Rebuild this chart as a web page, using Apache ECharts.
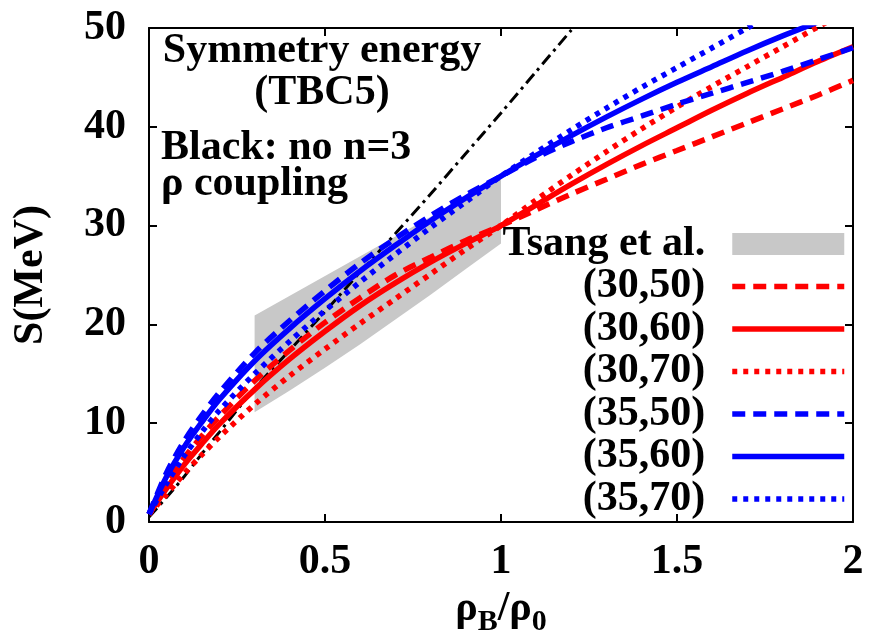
<!DOCTYPE html>
<html>
<head>
<meta charset="utf-8">
<script src="https://cdn.jsdelivr.net/npm/echarts@6/dist/echarts.min.js"></script>
<style>
  html, body { margin: 0; padding: 0; background: #fff; }
  #chart { width: 870px; height: 637px; }
</style>
</head>
<body>
<div id="chart"></div>
<script>
// Density grid (rho_B / rho_0) shared by the model curves
const rho = [0, 0.05, 0.1, 0.15, 0.2, 0.3, 0.4, 0.5, 0.6, 0.7, 0.8, 0.9, 1.0,
             1.1, 1.2, 1.3, 1.4, 1.5, 1.6, 1.7, 1.8, 1.9, 2.0];

// Symmetry energy S (MeV) for each (J, L) parameter set
const s30_50 = [0.8, 3.9, 6.5, 8.7, 10.7, 14.3, 17.4, 20.2, 22.7, 25.0, 26.8, 28.5, 30.0,
                31.6, 33.2, 34.7, 36.2, 37.6, 39.0, 40.4, 41.8, 43.2, 44.7];
const s30_60 = [0.8, 3.4, 5.8, 7.9, 9.9, 13.4, 16.5, 19.3, 21.9, 24.2, 26.3, 28.2, 30.0,
                32.1, 34.2, 36.2, 38.1, 39.9, 41.7, 43.4, 45.0, 46.6, 48.1];
const s30_70 = [0.8, 2.8, 4.9, 6.8, 8.6, 11.9, 14.8, 17.5, 20.1, 22.6, 25.1, 27.6, 30.0,
                32.6, 35.1, 37.5, 39.8, 42.0, 44.1, 46.1, 48.1, 50.1, 52.0];
const s35_50 = [0.8, 5.0, 8.2, 10.8, 13.1, 17.1, 20.4, 23.4, 26.2, 28.7, 31.0, 33.1, 35.0,
                36.9, 38.5, 39.9, 41.1, 42.3, 43.4, 44.5, 45.6, 46.8, 48.0];
const s35_60 = [0.8, 4.6, 7.6, 10.1, 12.4, 16.3, 19.6, 22.6, 25.4, 28.0, 30.5, 32.8, 35.0,
                37.1, 39.1, 41.0, 42.8, 44.5, 46.1, 47.7, 49.2, 50.6, 52.0];
const s35_70 = [0.8, 3.9, 6.7, 9.1, 11.3, 15.0, 18.3, 21.4, 24.3, 27.1, 29.8, 32.4, 35.0,
                37.4, 39.7, 41.9, 44.0, 46.0, 48.0, 50.0, 52.0, 53.9, 55.8];

// Reference model without the n=3 rho coupling (black dash-dot)
const rhoBlack = [0, 0.05, 0.1, 0.15, 0.2, 0.3, 0.4, 0.5, 0.6, 0.7, 0.8, 0.9, 1.0, 1.1, 1.2];
const sBlack   = [0.5, 2.5, 4.6, 6.9, 9.1, 13.5, 17.4, 21.3, 25.3, 29.2, 33.2, 37.3, 41.4, 45.6, 49.8];

// Tsang et al. constraint band
const bandRho  = [0.3, 0.4, 0.5, 0.6, 0.7, 0.8, 0.9, 1.0];
const bandLow  = [11.1, 13.3, 15.6, 18.0, 20.5, 23.0, 25.6, 28.2];
const bandHigh = [20.9, 22.9, 24.9, 26.9, 28.9, 30.9, 32.9, 34.9];

// Axis tick labels
const xTickLabels = ['0', '0.5', '1', '1.5', '2'];
const yTickLabels = ['0', '10', '20', '30', '40', '50'];

const RED = '#ff0000';
const BLUE = '#0000ff';
const GRAY = '#c8c8c8';
const FONT = 'Liberation Serif';

const pairs = (xs, ys) => ys.map((y, i) => [xs[i], y]);

function curve(name, ys, color, dash) {
  return {
    type: 'line', name: name, data: pairs(rho, ys),
    symbol: 'none', smooth: 0.3, z: 3,
    lineStyle: { color: color, width: 5.5, type: dash },
    itemStyle: { color: color }
  };
}

const chart = echarts.init(document.getElementById('chart'));

const axisCommon = {
  type: 'value',
  axisLine: { show: true, onZero: false, lineStyle: { color: '#000', width: 2 } },
  axisTick: { show: true, inside: true, length: 8, lineStyle: { color: '#000', width: 2 } },
  splitLine: { show: false }
};
const labelFont = { fontFamily: FONT, fontWeight: 'bold', fontSize: 42, color: '#000' };
const textFont = 'bold 42px "Liberation Serif"';

chart.setOption({
  animation: false,
  backgroundColor: '#fff',
  grid: { left: 149, right: 17, top: 28, bottom: 115, containLabel: false, outerBoundsMode: 'none' },
  xAxis: [
    Object.assign({}, axisCommon, {
      min: 0, max: 2, interval: 0.5,
      name: '{r|ρ}{s|B}{r|/ρ}{s|0}', nameLocation: 'middle', nameGap: 44,
      nameTextStyle: {
        rich: {
          r: { fontFamily: FONT, fontWeight: 'bold', fontSize: 42, color: '#000' },
          s: { fontFamily: FONT, fontWeight: 'bold', fontSize: 30, color: '#000', padding: [26, 0, 0, 0] }
        }
      },
      axisLabel: Object.assign({ margin: 19, formatter: v => xTickLabels[Math.round(v / 0.5)] }, labelFont)
    }),
    Object.assign({}, axisCommon, {
      position: 'top', min: 0, max: 2, interval: 0.5,
      axisLabel: { show: false }
    })
  ],
  yAxis: [
    Object.assign({}, axisCommon, {
      min: 0, max: 50, interval: 10,
      name: 'S(MeV)', nameLocation: 'middle', nameGap: 97, nameRotate: 90,
      nameTextStyle: labelFont,
      axisLabel: Object.assign({ margin: 23, formatter: v => yTickLabels[Math.round(v / 10)] }, labelFont)
    }),
    Object.assign({}, axisCommon, {
      position: 'right', min: 0, max: 50, interval: 10,
      axisLabel: { show: false }
    })
  ],
  legend: {
    orient: 'vertical', right: 23, top: 223, padding: 0,
    align: 'right', itemWidth: 112, itemHeight: 22, itemGap: 0.5,
    selectedMode: false,
    itemStyle: { opacity: 0 },
    lineStyle: { width: 'inherit', type: 'inherit' },
    textStyle: { fontFamily: FONT, fontWeight: 'bold', fontSize: 42, color: '#000',
                 lineHeight: 38, padding: [0, 22, 0, 0] },
    data: [
      { name: 'Tsang et al.', icon: 'rect', itemStyle: { color: GRAY, opacity: 1 } },
      '(30,50)', '(30,60)', '(30,70)', '(35,50)', '(35,60)', '(35,70)'
    ]
  },
  graphic: [
    { type: 'text', x: 322, y: 51, style: { text: 'Symmetry energy', font: textFont, fill: '#000', align: 'center', verticalAlign: 'middle' } },
    { type: 'text', x: 322, y: 93, style: { text: '(TBC5)', font: textFont, fill: '#000', align: 'center', verticalAlign: 'middle' } },
    { type: 'text', x: 161, y: 148, style: { text: 'Black: no n=3', font: textFont, fill: '#000', align: 'left', verticalAlign: 'middle' } },
    { type: 'text', x: 161, y: 184, style: { text: 'ρ coupling', font: textFont, fill: '#000', align: 'left', verticalAlign: 'middle' } }
  ],
  series: [
    {
      type: 'custom', name: 'Tsang et al.', z: 1, clip: true,
      itemStyle: { color: GRAY },
      data: [[bandRho[0], bandLow[0]]],
      renderItem: function (params, api) {
        const pts = [];
        bandRho.forEach((x, i) => pts.push(api.coord([x, bandHigh[i]])));
        for (let i = bandRho.length - 1; i >= 0; i--) pts.push(api.coord([bandRho[i], bandLow[i]]));
        return { type: 'polygon', shape: { points: pts }, style: { fill: GRAY } };
      }
    },
    {
      type: 'line', name: 'no n=3', data: pairs(rhoBlack, sBlack),
      symbol: 'none', smooth: 0.3, z: 2,
      lineStyle: { color: '#000', width: 3, type: [12, 5, 3, 5] }
    },
    curve('(30,50)', s30_50, RED, [13, 8]),
    curve('(30,60)', s30_60, RED, 'solid'),
    curve('(30,70)', s30_70, RED, [5, 6]),
    curve('(35,50)', s35_50, BLUE, [13, 8]),
    curve('(35,60)', s35_60, BLUE, 'solid'),
    curve('(35,70)', s35_70, BLUE, [5, 6])
  ]
});
</script>
</body>
</html>
